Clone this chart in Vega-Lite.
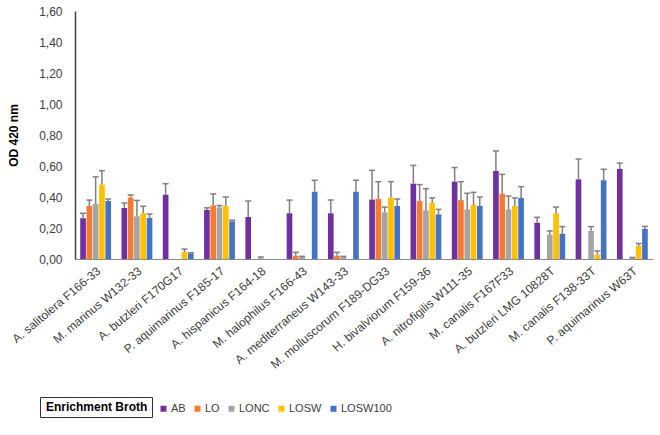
{
  "$schema": "https://vega.github.io/schema/vega-lite/v6.json",
  "width": 578,
  "height": 248,
  "padding": {"left": 7, "top": 5, "right": 5, "bottom": 5},
  "config": {
    "font": "Liberation Sans",
    "view": {"stroke": null},
    "locale": {"number": {"decimal": ",", "thousands": ".", "grouping": [3], "currency": ["", " €"]}},
    "axis": {"labelFont": "Liberation Sans", "titleFont": "Liberation Sans"},
    "axisY": {
      "labelOverlap": false,
      "format": ".2f",
      "tickCount": 9,
      "labelFontSize": 12,
      "labelColor": "#404040",
      "grid": false,
      "ticks": false,
      "labelPadding": 13,
      "domainColor": "#404040",
      "domainWidth": 1.5,
      "titleFontSize": 12,
      "titleFontWeight": "bold",
      "titleColor": "#000000",
      "titlePadding": 18
    }
  },
  "data": {
    "values": [
      {"species": "A. salitolera F166-33", "broth": "AB", "value": 0.263, "err": 0.295},
      {"species": "A. salitolera F166-33", "broth": "LO", "value": 0.342, "err": 0.38},
      {"species": "A. salitolera F166-33", "broth": "LONC", "value": 0.355, "err": 0.53},
      {"species": "A. salitolera F166-33", "broth": "LOSW", "value": 0.48, "err": 0.57},
      {"species": "A. salitolera F166-33", "broth": "LOSW100", "value": 0.374, "err": 0.387},
      {"species": "M. marinus W132-33", "broth": "AB", "value": 0.329, "err": 0.361},
      {"species": "M. marinus W132-33", "broth": "LO", "value": 0.396, "err": 0.413},
      {"species": "M. marinus W132-33", "broth": "LONC", "value": 0.275, "err": 0.378},
      {"species": "M. marinus W132-33", "broth": "LOSW", "value": 0.295, "err": 0.34},
      {"species": "M. marinus W132-33", "broth": "LOSW100", "value": 0.265, "err": 0.29},
      {"species": "A. butzleri F170G17", "broth": "AB", "value": 0.415, "err": 0.486},
      {"species": "A. butzleri F170G17", "broth": "LOSW", "value": 0.045, "err": 0.064},
      {"species": "A. butzleri F170G17", "broth": "LOSW100", "value": 0.036, "err": 0.04},
      {"species": "P. aquimarinus F185-17", "broth": "AB", "value": 0.316, "err": 0.33},
      {"species": "P. aquimarinus F185-17", "broth": "LO", "value": 0.346, "err": 0.42},
      {"species": "P. aquimarinus F185-17", "broth": "LONC", "value": 0.333, "err": 0.345},
      {"species": "P. aquimarinus F185-17", "broth": "LOSW", "value": 0.342, "err": 0.4},
      {"species": "P. aquimarinus F185-17", "broth": "LOSW100", "value": 0.243, "err": 0.25},
      {"species": "A. hispanicus F164-18", "broth": "AB", "value": 0.271, "err": 0.374},
      {"species": "A. hispanicus F164-18", "broth": "LONC", "value": 0.006, "err": 0.013},
      {"species": "M. halophilus F166-43", "broth": "AB", "value": 0.295, "err": 0.38},
      {"species": "M. halophilus F166-43", "broth": "LO", "value": 0.021, "err": 0.043},
      {"species": "M. halophilus F166-43", "broth": "LONC", "value": 0.013, "err": 0.017},
      {"species": "M. halophilus F166-43", "broth": "LOSW100", "value": 0.434, "err": 0.508},
      {"species": "A. mediterraneus W143-33", "broth": "AB", "value": 0.295, "err": 0.38},
      {"species": "A. mediterraneus W143-33", "broth": "LO", "value": 0.021, "err": 0.043},
      {"species": "A. mediterraneus W143-33", "broth": "LONC", "value": 0.013, "err": 0.017},
      {"species": "A. mediterraneus W143-33", "broth": "LOSW100", "value": 0.434, "err": 0.508},
      {"species": "M. molluscorum F189-DG33", "broth": "AB", "value": 0.383, "err": 0.572},
      {"species": "M. molluscorum F189-DG33", "broth": "LO", "value": 0.389, "err": 0.499},
      {"species": "M. molluscorum F189-DG33", "broth": "LONC", "value": 0.301, "err": 0.335},
      {"species": "M. molluscorum F189-DG33", "broth": "LOSW", "value": 0.396, "err": 0.499},
      {"species": "M. molluscorum F189-DG33", "broth": "LOSW100", "value": 0.342, "err": 0.387},
      {"species": "H. bivalviorum F159-36", "broth": "AB", "value": 0.486, "err": 0.604},
      {"species": "H. bivalviorum F159-36", "broth": "LO", "value": 0.374, "err": 0.48},
      {"species": "H. bivalviorum F159-36", "broth": "LONC", "value": 0.314, "err": 0.454},
      {"species": "H. bivalviorum F159-36", "broth": "LOSW", "value": 0.361, "err": 0.394},
      {"species": "H. bivalviorum F159-36", "broth": "LOSW100", "value": 0.288, "err": 0.32},
      {"species": "A. nitrofigilis W111-35", "broth": "AB", "value": 0.499, "err": 0.59},
      {"species": "A. nitrofigilis W111-35", "broth": "LO", "value": 0.38, "err": 0.499},
      {"species": "A. nitrofigilis W111-35", "broth": "LONC", "value": 0.32, "err": 0.424},
      {"species": "A. nitrofigilis W111-35", "broth": "LOSW", "value": 0.348, "err": 0.43},
      {"species": "A. nitrofigilis W111-35", "broth": "LOSW100", "value": 0.342, "err": 0.4},
      {"species": "M. canalis F167F33", "broth": "AB", "value": 0.568, "err": 0.697},
      {"species": "M. canalis F167F33", "broth": "LO", "value": 0.421, "err": 0.546},
      {"species": "M. canalis F167F33", "broth": "LONC", "value": 0.32, "err": 0.406},
      {"species": "M. canalis F167F33", "broth": "LOSW", "value": 0.342, "err": 0.394},
      {"species": "M. canalis F167F33", "broth": "LOSW100", "value": 0.394, "err": 0.467},
      {"species": "A. butzleri LMG 10828T", "broth": "AB", "value": 0.234, "err": 0.269},
      {"species": "A. butzleri LMG 10828T", "broth": "LONC", "value": 0.157, "err": 0.181},
      {"species": "A. butzleri LMG 10828T", "broth": "LOSW", "value": 0.295, "err": 0.335},
      {"species": "A. butzleri LMG 10828T", "broth": "LOSW100", "value": 0.163, "err": 0.209},
      {"species": "M. canalis F138-33T", "broth": "AB", "value": 0.514, "err": 0.645},
      {"species": "M. canalis F138-33T", "broth": "LONC", "value": 0.181, "err": 0.209},
      {"species": "M. canalis F138-33T", "broth": "LOSW", "value": 0.028, "err": 0.052},
      {"species": "M. canalis F138-33T", "broth": "LOSW100", "value": 0.508, "err": 0.579},
      {"species": "P. aquimarinus W63T", "broth": "AB", "value": 0.581, "err": 0.619},
      {"species": "P. aquimarinus W63T", "broth": "LONC", "value": 0.006, "err": 0.01},
      {"species": "P. aquimarinus W63T", "broth": "LOSW", "value": 0.084, "err": 0.1},
      {"species": "P. aquimarinus W63T", "broth": "LOSW100", "value": 0.194, "err": 0.21}
    ]
  },
  "encoding": {
    "x": {
      "field": "species",
      "type": "nominal",
      "sort": null,
      "scale": {"paddingInner": 0, "paddingOuter": 0},
      "axis": {
        "title": null,
        "labelAngle": -40,
        "ticks": false,
        "labelFontSize": 12,
        "labelColor": "#404040",
        "domainColor": "#8c8c8c",
        "domainWidth": 1,
        "labelPadding": 6,
        "labelLimit": 200
      }
    },
    "xOffset": {
      "field": "broth",
      "type": "nominal",
      "scale": {"domain": ["AB", "LO", "LONC", "LOSW", "LOSW100"], "paddingInner": 0.1, "paddingOuter": 0.83}
    }
  },
  "layer": [
    {
      "mark": {"type": "bar"},
      "encoding": {
        "y": {
          "field": "value",
          "type": "quantitative",
          "scale": {"domain": [0, 1.6], "nice": false},
          "axis": {
            "title": "OD 420 nm",
            "values": [0, 0.2, 0.4, 0.6, 0.8, 1.0, 1.2, 1.4, 1.6],
            "labelOverlap": false
          }
        },
        "color": {
          "field": "broth",
          "type": "nominal",
          "scale": {
            "domain": ["AB", "LO", "LONC", "LOSW", "LOSW100"],
            "range": ["#7030A0", "#F47B30", "#A5A5A5", "#FFC000", "#4472C4"]
          },
          "legend": {
            "title": null,
            "orient": "none",
            "legendX": 83,
            "legendY": 392,
            "direction": "horizontal",
            "labelFontSize": 11,
            "labelColor": "#404040",
            "symbolType": "square",
            "symbolSize": 36,
            "columnPadding": 6,
            "labelOffset": 2
          }
        }
      }
    },
    {
      "mark": {"type": "rule", "color": "#808080", "strokeWidth": 1.5},
      "encoding": {
        "y": {"field": "value", "type": "quantitative", "axis": {"title": "OD 420 nm", "values": [0, 0.2, 0.4, 0.6, 0.8, 1.0, 1.2, 1.4, 1.6], "labelOverlap": false}},
        "y2": {"field": "err"}
      }
    },
    {
      "mark": {"type": "tick", "color": "#808080", "thickness": 1.5, "size": 6, "orient": "horizontal"},
      "encoding": {
        "y": {"field": "err", "type": "quantitative", "axis": {"title": "OD 420 nm", "values": [0, 0.2, 0.4, 0.6, 0.8, 1.0, 1.2, 1.4, 1.6], "labelOverlap": false}},
        "opacity": {
          "datum": "Enrichment Broth",
          "type": "nominal",
          "scale": {"range": [1, 1]},
          "legend": {
            "title": null,
            "orient": "none",
            "legendX": -35,
            "legendY": 386,
            "symbolSize": 0,
            "symbolStrokeWidth": 0,
            "labelOffset": -10,
            "labelFontSize": 12,
            "labelFontWeight": "bold",
            "labelColor": "#000000",
            "strokeColor": "#333333",
            "padding": 4
          }
        }
      }
    }
  ]
}
